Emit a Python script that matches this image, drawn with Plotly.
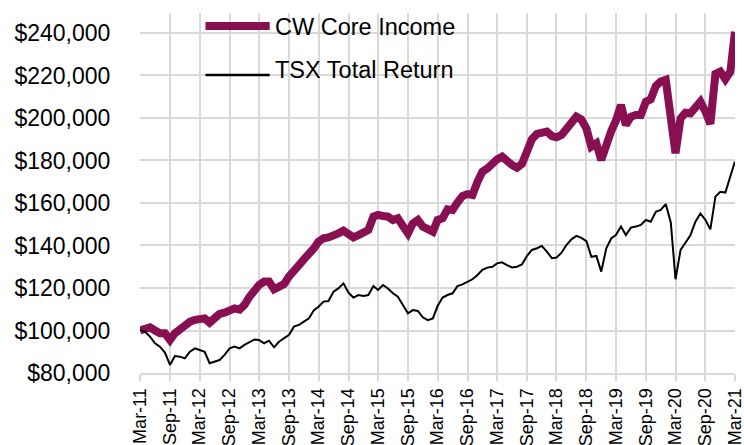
import pandas as pd
import plotly.graph_objects as go

months = pd.date_range("2011-03-01", periods=121, freq="MS")

cw_core_income = [
    100000, 101000, 101500, 100000, 98700, 98700, 95500, 98700, 100600, 102600,
    104100, 105000, 105700, 105700, 103700, 105700, 107800, 108400, 109300, 110400,
    109800, 112000, 115900, 119100, 121400, 123000, 123000, 119400, 120900, 121800,
    125500, 127700, 130800, 133500, 135500, 138700, 141800, 143400, 143800, 144500,
    145700, 147000, 144900, 143800, 144900, 146000, 147300, 153600, 154400, 153900,
    153600, 152000, 152800, 149200, 145700, 150400, 152000, 148900, 147300, 146500,
    152000, 152800, 157000, 156700, 160200, 163300, 164200, 163800, 170000, 174700,
    176300, 178700, 180500, 181800, 179400, 177900, 176600, 178400, 184200, 190000,
    192500, 193100, 193600, 191500, 190900, 192000, 194700, 197200, 200600, 199300,
    195000, 186500, 188100, 180200, 188100, 194000, 198700, 206100, 196700, 200600,
    201400, 201400, 207700, 208800, 215000, 217100, 217900, 200600, 183400, 199800,
    202500, 202200, 205300, 207700, 203000, 197200, 220700, 221800, 218200, 221800,
    240600,
]

tsx_total_return = [
    100200, 99400, 97100, 94000, 92400, 89600, 83800, 88000, 87700, 86900,
    90000, 91600, 90800, 90000, 84600, 85300, 86100, 88500, 91600, 92400,
    91600, 93200, 94700, 95800, 95500, 94000, 95200, 92100, 94700, 96300,
    98000, 101800, 102600, 104200, 105700, 109600, 111200, 113600, 113900, 118300,
    119800, 122200, 117800, 115500, 116700, 116200, 116700, 120900, 119100, 121400,
    119800, 117500, 115900, 112000, 108100, 109600, 109200, 106200, 104900, 105700,
    111500, 115500, 116700, 117500, 120900, 121700, 123000, 124100, 126100, 128500,
    129600, 130000, 131600, 132100, 130800, 129700, 130000, 131100, 135100, 137900,
    138700, 139800, 137100, 134000, 134300, 136600, 140200, 142900, 144500, 143600,
    142000, 134700, 135100, 127700, 138700, 143400, 144900, 148900, 144900, 148400,
    148900, 149700, 152000, 151200, 155900, 156700, 159500, 150800, 124100, 137900,
    141300, 144900, 151200, 155100, 152000, 147600, 163000, 165300, 164900, 172400,
    179500,
]

tick_labels = ["Mar-11", "Sep-11", "Mar-12", "Sep-12", "Mar-13", "Sep-13", "Mar-14",
               "Sep-14", "Mar-15", "Sep-15", "Mar-16", "Sep-16", "Mar-17", "Sep-17",
               "Mar-18", "Sep-18", "Mar-19", "Sep-19", "Mar-20", "Sep-20", "Mar-21"]
y_ticks = [80000, 100000, 120000, 140000, 160000, 180000, 200000, 220000, 240000]

series_names = ["CW Core Income", "TSX Total Return"]
PURPLE = "#881052"
FONT = "Liberation Sans, Arial, sans-serif"

fig = go.Figure()
fig.add_trace(go.Scatter(x=months, y=cw_core_income, mode="lines", name=series_names[0],
                         line=dict(color=PURPLE, width=8)))
fig.add_trace(go.Scatter(x=months, y=tsx_total_return, mode="lines", name=series_names[1],
                         line=dict(color="black", width=2)))

# manual legend (line samples + labels)
legend_items = [(series_names[0], PURPLE, 8, 0.964, 0.960),
                (series_names[1], "black", 2.5, 0.828, 0.842)]
for name, col, w, ly, ty in legend_items:
    fig.add_shape(type="line", xref="paper", yref="paper", x0=0.110, x1=0.218, y0=ly, y1=ly,
                  line=dict(color=col, width=w), layer="above")
    fig.add_annotation(xref="paper", yref="paper", x=0.224, y=ty, text=name, showarrow=False,
                       xanchor="left", yanchor="middle", font=dict(size=23.5, color="black", family=FONT))

fig.update_layout(
    width=744, height=445,
    margin=dict(l=140, r=9, t=13, b=72, autoexpand=False),
    paper_bgcolor="white", plot_bgcolor="white",
    showlegend=False,
    font=dict(family=FONT, color="black"),
)
fig.update_xaxes(
    range=[months[0] - pd.Timedelta(hours=6), months[-1] + pd.Timedelta(hours=6)],
    tickvals=months[::6], ticktext=tick_labels, tickangle=-90,
    tickfont=dict(size=18, family=FONT, color="black"),
    ticklabeloverflow="allow",
    showgrid=True, gridcolor="#d9d9d9", gridwidth=2,
    ticks="outside", ticklen=6, tickcolor="#d9d9d9", tickwidth=2,
    showline=True, linecolor="#d9d9d9", linewidth=2,
    zeroline=False, automargin=False,
)
fig.update_yaxes(
    range=[80000, 249400],
    tickvals=y_ticks, tickformat="$,.0f",
    tickfont=dict(size=23, family=FONT, color="black"),
    showgrid=True, gridcolor="#d9d9d9", gridwidth=2,
    ticks="outside", ticklen=24, tickcolor="rgba(0,0,0,0)",
    showline=False, zeroline=False, automargin=False,
)

fig.write_html("out.html",
               config={"displayModeBar": False},
               post_script="document.body.style.margin='0';document.body.style.padding='0';"
                           "document.body.style.overflow='hidden';")
